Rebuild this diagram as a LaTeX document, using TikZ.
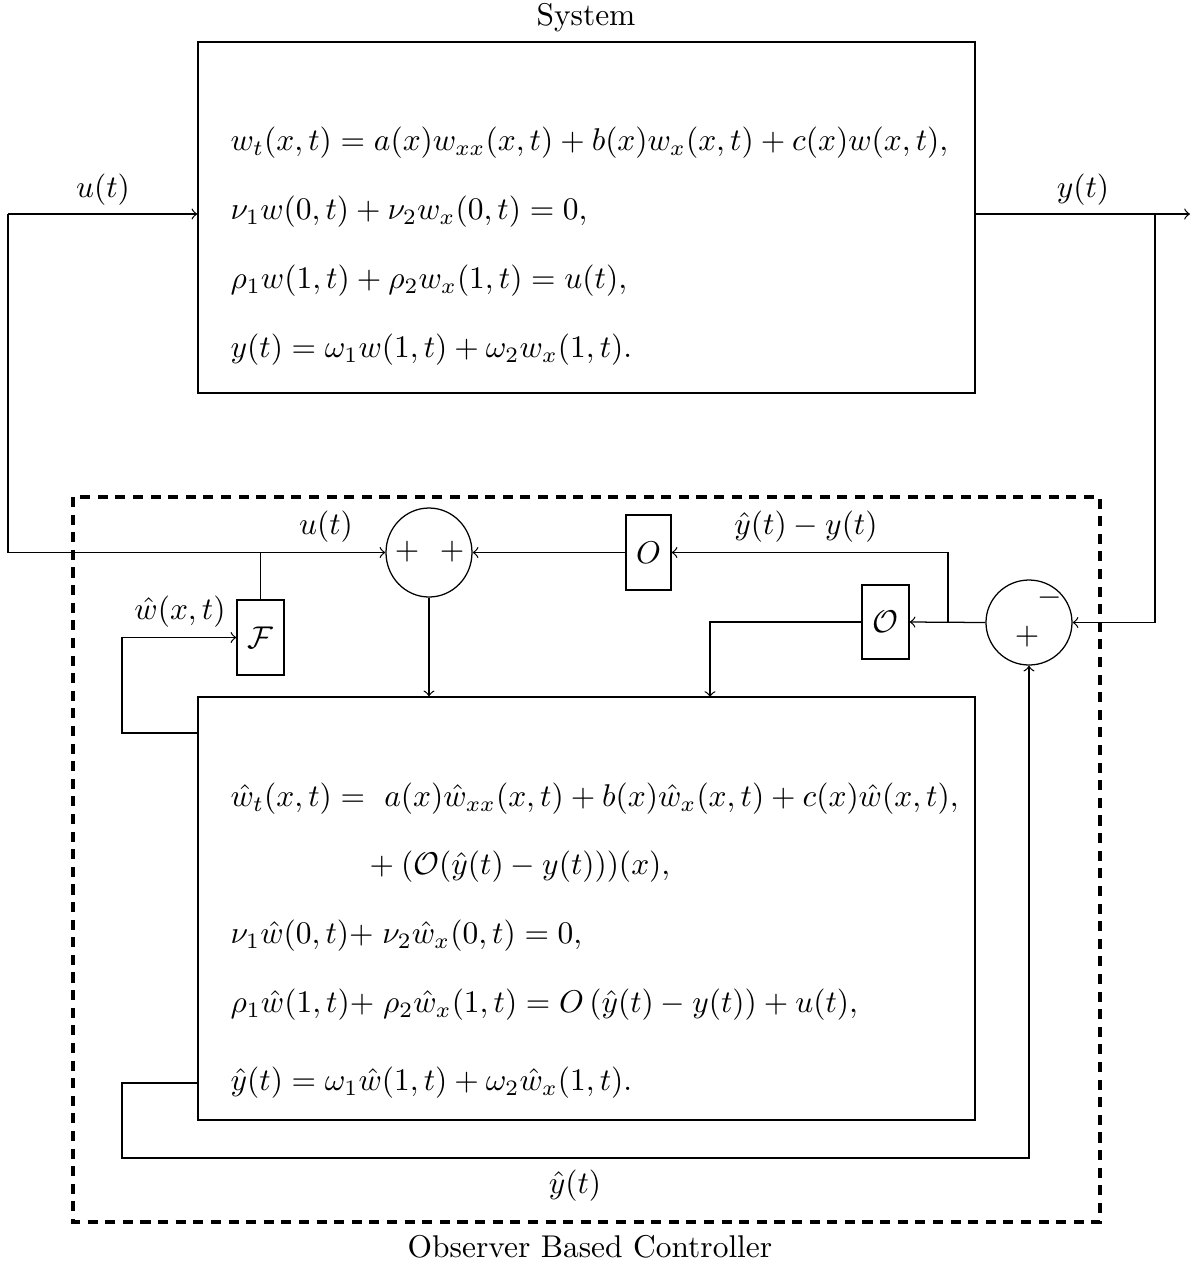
\documentclass[tikz,border=0pt]{standalone}
\usetikzlibrary{shapes.geometric}
\newdimen\pxu
\pxu=0.318pt
\tikzset{
  blk/.style={draw, inner sep=0pt},
  sumnode/.style={draw, ellipse, inner sep=0pt},
  conn/.style={->},
  lbl/.style={inner sep=0pt},
  eq/.style={anchor=west, inner sep=0pt},
}
\begin{document}
\begin{tikzpicture}[x=0.318pt, y=-0.318pt]
\useasboundingbox (0,0) rectangle (1204,1266);
% system
\node[lbl] (systitle) at (586,18) {System};
\node[blk, minimum width=777\pxu, minimum height=351\pxu] (sys) at (586.5,217.5) {};
\node[eq] (s1) at (230,143) {$w_t(x,t) = a(x)w_{xx}(x,t) + b(x)w_x(x,t) + c(x)w(x,t),$};
\node[eq] (s2) at (230,212) {$\nu_1 w(0,t) + \nu_2 w_x(0,t) = 0,$};
\node[eq] (s3) at (230,281) {$\rho_1 w(1,t) + \rho_2 w_x(1,t) = u(t),$};
\node[eq] (s4) at (230,350) {$y(t) = \omega_1 w(1,t) + \omega_2 w_x(1,t).$};
% controller frame
\draw[line width=1.3pt, dash pattern=on 3.2pt off 2.4pt] (73,497) rectangle (1100,1222);
\node[lbl] (ctitle) at (590,1247) {Observer Based Controller};
% blocks
\node[sumnode, minimum width=86\pxu, minimum height=89\pxu] (sum) at (429,552.5) {};
\node[lbl] at (407,552) {$+$};
\node[lbl] at (452,552) {$+$};
\node[blk, minimum width=45\pxu, minimum height=75\pxu] (Ob) at (648.5,552.5) {$O$};
\node[blk, minimum width=47\pxu, minimum height=74\pxu] (Oc) at (885.5,622) {$\mathcal{O}$};
\node[sumnode, minimum width=86\pxu, minimum height=85\pxu] (diff) at (1029,622.5) {};
\node[lbl] at (1050,598) {$-$};
\node[lbl] at (1027,637) {$+$};
\node[blk, minimum width=47\pxu, minimum height=75\pxu] (F) at (260.5,637.5) {$\mathcal{F}$};
\node[blk, minimum width=777\pxu, minimum height=423\pxu] (obs) at (586.5,908.5) {};
\node[eq] (o1) at (230,799) {$\hat{w}_t(x,t) =\ a(x)\hat{w}_{xx}(x,t) + b(x)\hat{w}_x(x,t) + c(x)\hat{w}(x,t),$};
\node[eq] (o2) at (362,867) {${}+ (\mathcal{O}(\hat{y}(t) - y(t)))(x),$};
\node[eq] (o3) at (230,936) {$\nu_1\hat{w}(0,t)\mathord{+}\;\nu_2\hat{w}_x(0,t) = 0,$};
\node[eq] (o4) at (230,1005) {$\rho_1\hat{w}(1,t)\mathord{+}\;\rho_2\hat{w}_x(1,t) = O\left(\hat{y}(t) - y(t)\right) + u(t),$};
\node[eq] (o5) at (230,1083) {$\hat{y}(t) = \omega_1\hat{w}(1,t) + \omega_2\hat{w}_x(1,t).$};
% coordinates
\coordinate (uin) at (8,214);
\coordinate (yend) at (1190,214);
\coordinate (ybr) at (1155,214);
\coordinate (br) at (948,622);
\coordinate (obin) at (710,697);
\coordinate (fbk) at (122,733);
\coordinate (yhk) at (122,1083);
\coordinate (yhb) at (122,1158);
% connectors
\draw[conn] (uin) -- (uin -| sys.west);
\draw[conn] (uin) |- (sum.west);
\draw[conn] (yend -| sys.east) -- (yend);
\draw[conn] (ybr) |- (diff.east);
\draw[conn] (Ob.west) -- (sum.east);
\draw[conn] (diff.west) -- (Oc.east);
\draw[conn] (br) |- (Ob.east);
\draw[conn] (Oc.west) -| (obin);
\draw[conn] (sum.south) -- (sum.south |- obs.north);
\draw (F.north) -- (F.north |- sum.west);
\draw[conn] (fbk -| obs.west) -- (fbk) |- (F.west);
\draw[conn] (yhk -| obs.west) -- (yhk) -- (yhb) -| (diff.south);
% labels
\node[lbl] at (103,190) {$u(t)$};
\node[lbl] at (1083,190) {$y(t)$};
\node[lbl] at (326,527) {$u(t)$};
\node[lbl] at (806,527) {$\hat{y}(t) - y(t)$};
\node[lbl] at (180,612) {$\hat{w}(x,t)$};
\node[lbl] at (575,1186) {$\hat{y}(t)$};
\end{tikzpicture}
\end{document}
